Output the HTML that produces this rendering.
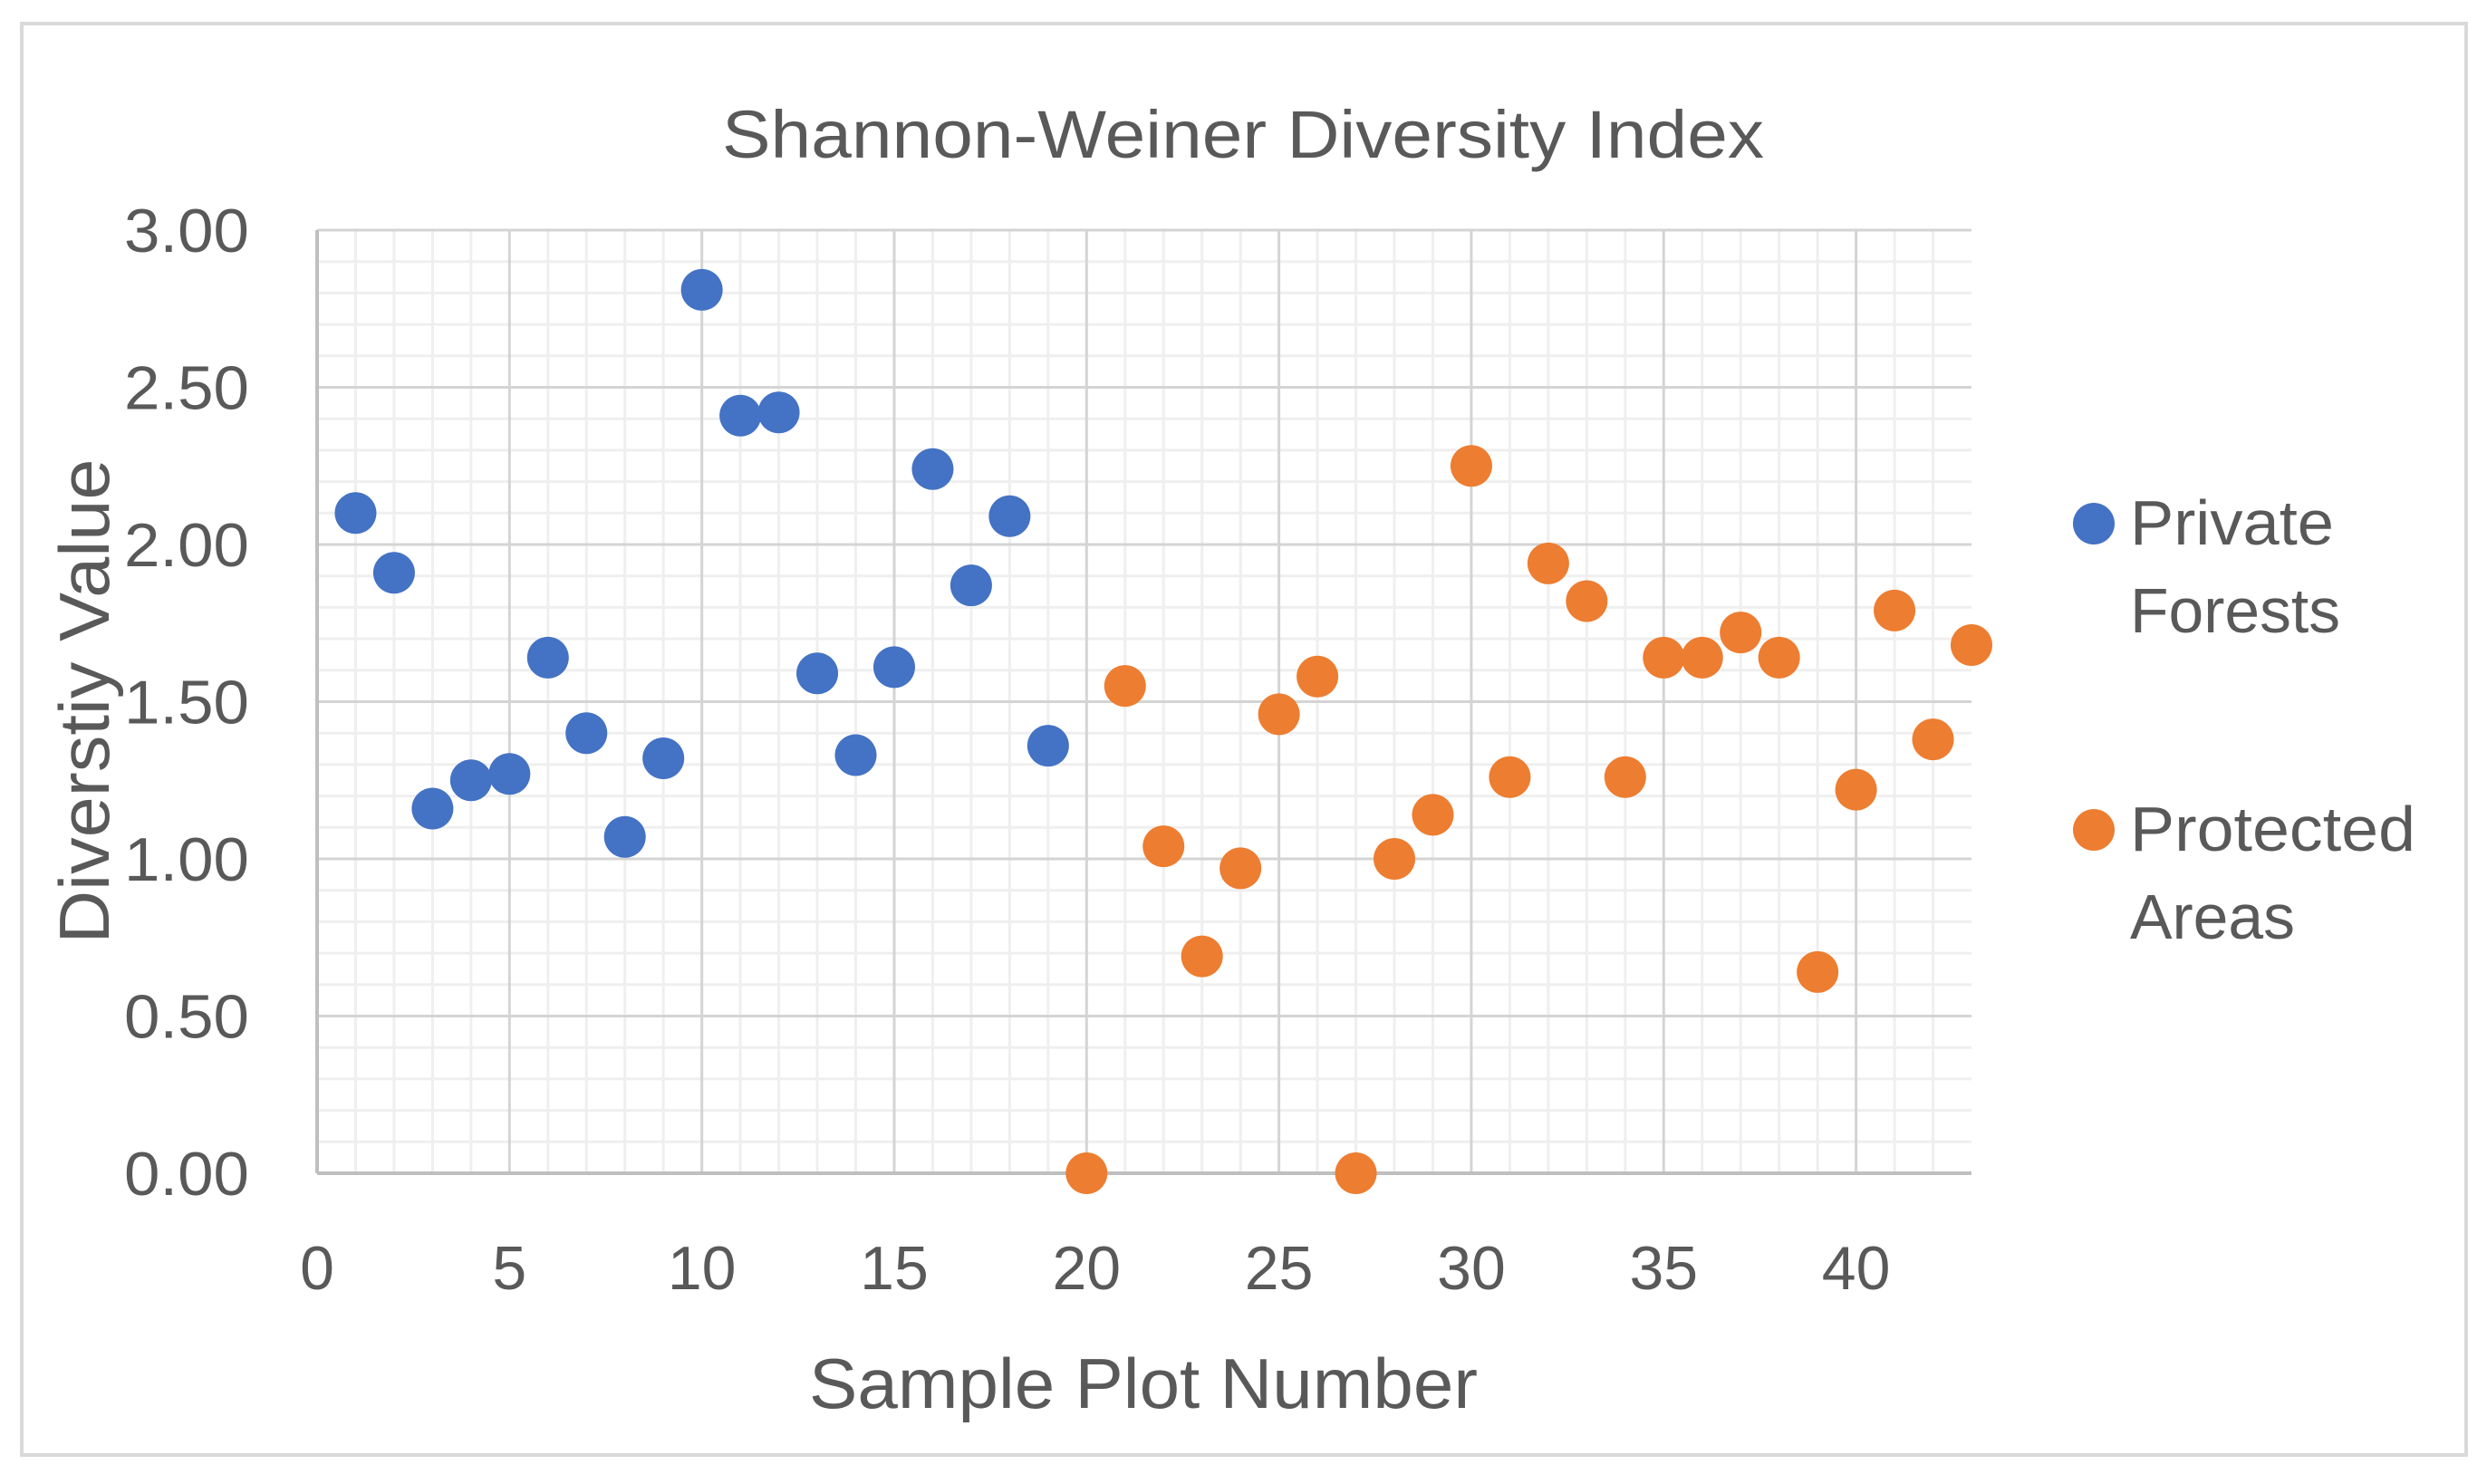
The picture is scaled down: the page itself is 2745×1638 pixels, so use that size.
<!DOCTYPE html>
<html><head><meta charset="utf-8"><style>
html,body{margin:0;padding:0;background:#fff;}
svg{display:block;font-family:"Liberation Sans",sans-serif;}
</style></head><body>
<svg id="chart" width="2745" height="1638" viewBox="0 0 2745 1638">
<rect x="24" y="26" width="2698" height="1580" fill="#fff" stroke="#d9d9d9" stroke-width="4"/>
<g id="grid"></g>
<g id="axes"></g>
<g id="marks"></g>
<text x="1372" y="174" font-size="74" fill="#595959" text-anchor="middle" textLength="1150" lengthAdjust="spacingAndGlyphs">Shannon-Weiner Diversity Index</text>
<text x="1262" y="1554" font-size="78" fill="#595959" text-anchor="middle" textLength="738" lengthAdjust="spacingAndGlyphs">Sample Plot Number</text>
<text transform="translate(120,774) rotate(-90)" font-size="78" fill="#595959" text-anchor="middle" textLength="535" lengthAdjust="spacingAndGlyphs">Diverstiy Value</text>
<g>
<g>
<circle cx="2311" cy="578" r="23" fill="#4472C4"/>
<text x="2351" y="601" font-size="70" fill="#595959" textLength="225" lengthAdjust="spacingAndGlyphs">Private</text>
<text x="2351" y="698" font-size="70" fill="#595959" textLength="232" lengthAdjust="spacingAndGlyphs">Forests</text>
</g>
<g>
<circle cx="2311" cy="916" r="23" fill="#ED7D31"/>
<text x="2351" y="939" font-size="70" fill="#595959" textLength="315" lengthAdjust="spacingAndGlyphs">Protected</text>
<text x="2351" y="1036" font-size="70" fill="#595959" textLength="182" lengthAdjust="spacingAndGlyphs">Areas</text>
</g>
</g>
</svg>
<script>
const privateX = [1,2,3,4,5,6,7,8,9,10,11,12,13,14,15,16,17,18,19];
const privateY = [2.10,1.91,1.16,1.25,1.27,1.64,1.40,1.07,1.32,2.81,2.41,2.42,1.59,1.33,1.61,2.24,1.87,2.09,1.36];
const protectedX = [20,21,22,23,24,25,26,27,28,29,30,31,32,33,34,35,36,37,38,39,40,41,42,43];
const protectedY = [0,1.55,1.04,0.69,0.97,1.46,1.58,0,1.00,1.14,2.25,1.26,1.94,1.82,1.26,1.64,1.64,1.72,1.64,0.64,1.22,1.79,1.38,1.68];
const xTicks = [0,5,10,15,20,25,30,35,40];
const yTicks = ["0.00","0.50","1.00","1.50","2.00","2.50","3.00"];
const xMin = 0, xMax = 43, yMin = 0, yMax = 3;

const L = 350, R = 2176, T = 254, B = 1295;
const NS = "http://www.w3.org/2000/svg";
function sx(v){ return L + (v - xMin) / (xMax - xMin) * (R - L); }
function sy(v){ return B - (v - yMin) / (yMax - yMin) * (B - T); }
function mk(tag, attrs, parent){
  const e = document.createElementNS(NS, tag);
  for (const k in attrs) e.setAttribute(k, attrs[k]);
  parent.appendChild(e);
  return e;
}
const grid = document.getElementById('grid');
const axes = document.getElementById('axes');
const marks = document.getElementById('marks');

for (let i = xMin + 1; i < xMax; i++) {
  if (i % 5 === 0) continue;
  const l = mk('line', {x1:sx(i), x2:sx(i), y1:T, y2:B, stroke:'#efefef', 'stroke-width':3}, grid);
  
  
}
for (let j = 1; j < 30; j++) {
  if (j % 5 === 0) continue;
  const v = j / 10;
  const l = mk('line', {x1:L, x2:R, y1:sy(v), y2:sy(v), stroke:'#efefef', 'stroke-width':3}, grid);
  
  
}
xTicks.forEach(t => {
  if (t > xMin) {
    const l = mk('line', {x1:sx(t), x2:sx(t), y1:T, y2:B, stroke:'#d4d4d4', 'stroke-width':3}, grid);
    
    
  }
  const tx = mk('text', {x:sx(t), y:1423, 'font-size':68, fill:'#595959', 'text-anchor':'middle'}, axes);
  tx.textContent = String(t);
  
  
});
yTicks.forEach(t => {
  const v = parseFloat(t);
  if (v > yMin) {
    const l = mk('line', {x1:L, x2:R, y1:sy(v), y2:sy(v), stroke:'#d4d4d4', 'stroke-width':3}, grid);
    
    
  }
  const tx = mk('text', {x:275, y:sy(v) + 24, 'font-size':68, fill:'#595959', 'text-anchor':'end', textLength:138, lengthAdjust:'spacingAndGlyphs'}, axes);
  tx.textContent = t;
  
  
});
const ax = mk('line', {x1:L, x2:R, y1:B, y2:B, stroke:'#bfbfbf', 'stroke-width':4}, axes);


const ay = mk('line', {x1:L, x2:L, y1:T, y2:B, stroke:'#bfbfbf', 'stroke-width':4}, axes);



privateX.forEach((x, i) => {
  const c = mk('circle', {cx:sx(x), cy:sy(privateY[i]), r:23, fill:'#4472C4'}, marks);
  
  
});
protectedX.forEach((x, i) => {
  const c = mk('circle', {cx:sx(x), cy:sy(protectedY[i]), r:23, fill:'#ED7D31'}, marks);
  
  
});
</script>
</body></html>
